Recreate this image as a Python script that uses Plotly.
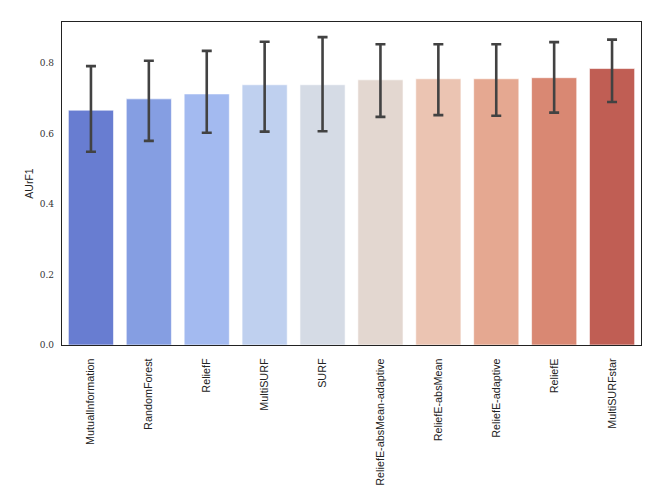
import plotly.graph_objects as go

methods = ["MutualInformation", "RandomForest", "ReliefF", "MultiSURF", "SURF",
           "ReliefE-absMean-adaptive", "ReliefE-absMean", "ReliefE-adaptive",
           "ReliefE", "MultiSURFstar"]
aurf1 = [0.666, 0.698, 0.712, 0.738, 0.738, 0.752, 0.755, 0.755, 0.758, 0.784]
err_hi = [0.791, 0.806, 0.834, 0.860, 0.873, 0.853, 0.853, 0.853, 0.859, 0.866]
err_lo = [0.548, 0.579, 0.602, 0.605, 0.606, 0.647, 0.652, 0.650, 0.659, 0.689]

# coolwarm-ish palette, desaturated like seaborn
palette = ["#687DD1", "#859EE2", "#A3BAF0", "#BFD0EF", "#D5DBE5",
           "#E3D7D0", "#EBC4B2", "#E5A891", "#D98873", "#C05E54"]

up = [h - v for h, v in zip(err_hi, aurf1)]
down = [v - l for l, v in zip(err_lo, aurf1)]

fig = go.Figure(go.Bar(
    x=methods, y=aurf1,
    marker=dict(color=palette, line=dict(color="rgba(255,255,255,0.6)", width=1)),
    error_y=dict(type="data", symmetric=False, array=up, arrayminus=down,
                 color="#424242", thickness=2.6, width=5),
    width=0.78,
))

# page has an 8px body margin, so the figure is a bit smaller than the window
fig.update_layout(
    width=656, height=490,
    margin=dict(l=54, r=23, t=14, b=153),
    plot_bgcolor="white", paper_bgcolor="white",
    showlegend=False,
    font=dict(family="Liberation Sans", size=10, color="#222"),
)
fig.update_xaxes(
    showline=True, linecolor="#222", linewidth=1.3, mirror=True,
    tickangle=-90, tickfont=dict(family="Liberation Sans", size=10.8, color="#222"),
    showgrid=False, ticks="outside", ticklen=8, tickcolor="white", tickwidth=0.1,
    range=[-0.5, 9.5],
)
fig.update_yaxes(
    title=dict(text="AUrF1", font=dict(family="Liberation Sans", size=10.5), standoff=4),
    showline=True, linecolor="#222", linewidth=1.3, mirror=True,
    range=[0, 0.916], tickvals=[0.0, 0.2, 0.4, 0.6, 0.8],
    ticktext=["0.0", "0.2", "0.4", "0.6", "0.8"],
    tickfont=dict(family="DejaVu Serif", size=9, color="#333"),
    showgrid=False, zeroline=False,
    ticks="outside", ticklen=5, tickcolor="white", tickwidth=0.1,
)

fig.write_html("out.html")
